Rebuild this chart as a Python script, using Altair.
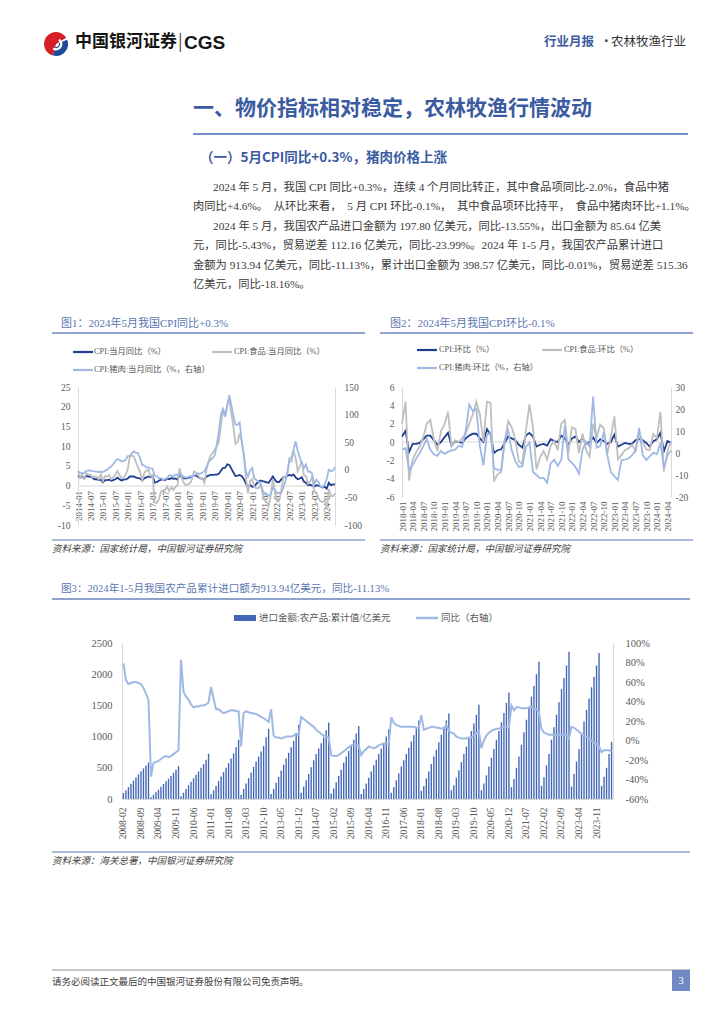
import altair as alt
import pandas as pd

# ---------------- categories ----------------
def month_range(y0, m0, y1, m1):
    out = []
    y, m = y0, m0
    while (y, m) <= (y1, m1):
        out.append("%d-%02d" % (y, m))
        m += 1
        if m == 13:
            y, m = y + 1, 1
    return out

cpi_months = month_range(2014, 1, 2024, 5)
mom_months = month_range(2018, 1, 2024, 5)
imp_months = month_range(2008, 2, 2024, 5)

# ---------------- chart 1 data (YoY, %) ----------------
cpi_yoy = [
    2.5, 2.0, 2.4, 1.8, 2.5, 2.3, 2.3, 2.0, 1.6, 1.6, 1.4, 1.5,
    0.8, 1.4, 1.4, 1.5, 1.2, 1.4, 1.6, 2.0, 1.6, 1.3, 1.5, 1.6,
    1.8, 2.3, 2.3, 2.3, 2.0, 1.9, 1.8, 1.3, 1.9, 2.1, 2.3, 2.1,
    2.5, 0.8, 0.9, 1.2, 1.5, 1.5, 1.4, 1.8, 1.6, 1.9, 1.7, 1.8,
    1.5, 2.9, 2.1, 1.8, 1.8, 1.9, 2.1, 2.3, 2.5, 2.5, 2.2, 1.9,
    1.7, 1.5, 2.3, 2.5, 2.7, 2.7, 2.8, 2.8, 3.0, 3.8, 4.5, 4.5,
    5.4, 5.2, 4.3, 3.3, 2.4, 2.5, 2.7, 2.4, 1.7, 0.5, -0.5, 0.2,
    -0.3, -0.2, 0.4, 0.9, 1.3, 1.1, 1.0, 0.8, 0.7, 1.5, 2.3, 1.5,
    0.9, 0.9, 1.5, 2.1, 2.1, 2.5, 2.7, 2.5, 2.8, 2.1, 1.6, 1.8,
    2.1, 1.0, 0.7, 0.1, 0.2, 0.0, -0.3, 0.1, 0.0, -0.2, -0.5, -0.3,
    -0.8, 0.7, 0.1, 0.3, 0.3]
food_yoy = [
    3.7, 2.0, 2.8, 1.8, 3.1, 2.8, 2.7, 2.1, 2.3, 2.2, 1.6, 2.9,
    1.1, 2.4, 2.3, 2.7, 1.6, 2.1, 2.7, 3.7, 2.7, 1.9, 2.0, 2.7,
    4.1, 7.3, 7.6, 7.4, 5.9, 4.6, 3.3, 1.3, 3.2, 3.8, 4.0, 2.4,
    2.7, -4.3, -4.4, -3.5, -1.6, -1.2, -1.1, -0.2, -1.4, -0.4, -1.1, -0.4,
    0.0, 4.4, 2.1, 0.7, 0.1, 0.3, 0.5, 1.7, 3.6, 3.3, 2.5, 1.9,
    1.9, 0.7, 4.1, 6.1, 7.7, 8.3, 9.1, 10.0, 11.2, 15.5, 19.1, 17.4,
    20.6, 21.9, 18.3, 14.8, 10.6, 11.1, 13.2, 11.2, 7.9, 2.2, -2.0, 1.2,
    1.6, -0.2, -0.7, -0.7, 0.3, -1.7, -3.7, -4.1, -5.2, -2.4, 1.6, -1.2,
    -3.8, -3.9, -1.5, 1.9, 2.3, 2.9, 6.3, 6.1, 8.8, 7.0, 3.7, 4.8,
    6.2, 2.6, 2.4, 0.4, 1.0, 2.3, -1.7, -1.7, -3.2, -4.0, -4.2, -3.7,
    -5.9, -0.9, -2.7, -2.7, -2.0]
pork_yoy = [
    -3.0, -5.0, -6.5, -5.5, -2.0, -1.0, -1.5, -2.5, -3.0, -3.5, -4.0, -3.5,
    -4.0, -2.0, 0.0, 3.0, 6.0, 10.0, 16.0, 19.6, 18.0, 15.0, 16.0, 18.0,
    25.0, 25.4, 30.2, 33.6, 30.7, 30.1, 20.4, 8.7, 7.8, 4.3, 4.3, 2.6,
    2.0, -10.2, -11.6, -15.0, -15.1, -18.2, -16.6, -15.1, -9.6, -10.1, -12.2, -8.8,
    -9.0, -8.0, -9.5, -13.0, -14.0, -13.5, -12.0, -11.5, -10.0, -8.0, -6.5, -7.0,
    -4.8, -3.3, 5.1, 14.4, 18.2, 21.1, 27.0, 46.7, 69.3, 101.3, 110.2, 97.0,
    116.0, 135.2, 116.4, 96.9, 81.7, 81.6, 85.7, 52.6, 25.5, -2.8, -12.5, -1.7,
    3.5, -14.9, -18.4, -21.4, -23.8, -36.5, -43.5, -44.9, -46.9, -44.0, -32.7, -36.7,
    -41.6, -42.5, -41.4, -33.3, -21.1, -6.0, 20.2, 22.4, 36.0, 51.8, 34.4, 22.2,
    11.8, 3.3, 9.6, -3.2, -3.2, -7.2, -26.0, -17.9, -22.0, -30.1, -31.8, -26.1,
    -17.3, 0.0, -2.4, -1.6, 4.6]

# ---------------- chart 2 data (MoM, %) ----------------
cpi_mom = [
    0.6, 1.2, -1.1, -0.2, -0.2, -0.1, 0.3, 0.7, 0.7, 0.2, -0.3, 0.0,
    0.5, 1.0, -0.4, 0.1, 0.0, -0.1, 0.4, 0.7, 0.9, 0.9, 0.4, 0.0,
    1.4, 0.8, -1.2, -0.9, -0.8, -0.1, 0.6, 0.4, 0.2, -0.3, -0.6, 0.7,
    1.0, 0.6, -0.5, -0.3, -0.2, -0.4, 0.3, 0.1, 0.0, 0.7, 0.4, -0.3,
    0.4, 0.6, 0.0, 0.4, -0.2, 0.0, 0.5, -0.1, 0.3, 0.1, -0.2, 0.0,
    0.8, -0.5, -0.3, -0.1, -0.2, -0.2, 0.2, 0.3, 0.2, -0.1, -0.5, 0.1,
    0.3, 1.0, -1.0, 0.1, -0.1]
food_mom = [
    2.0, 4.4, -4.2, -1.9, -1.1, -0.5, 0.5, 2.0, 2.4, 0.3, -1.0, 1.2,
    1.9, 3.3, -0.5, 0.2, 0.0, 0.4, 0.9, 2.0, 3.0, 4.4, 3.0, 0.0,
    4.4, 4.3, -4.3, -3.5, -3.3, 0.0, 2.3, 1.6, 0.3, -2.1, -2.4, 1.2,
    4.1, 1.6, -3.0, -1.7, -1.0, -1.9, -0.4, 0.1, -0.9, 2.0, 2.4, -1.2,
    1.6, 1.4, -1.2, 0.9, -0.9, -1.6, 2.0, 0.5, 1.9, 1.5, -1.3, 0.5,
    2.8, -1.9, -1.4, -0.9, -0.7, -0.3, -1.0, 1.1, 0.0, -0.8, -0.9, 0.9,
    0.4, 3.3, -3.2, -1.0, 0.0]
pork_mom = [
    1.4, 2.2, -7.7, -5.5, -2.5, 0.0, 3.0, 6.4, 1.5, -0.6, -1.3, 0.9,
    -0.4, 0.5, 1.2, 1.5, 3.2, 2.8, 10.1, 22.0, 19.0, 20.1, 3.1, -5.6,
    8.5, 9.2, -6.9, -7.6, -8.1, 6.0, 10.3, 1.2, -3.6, -6.4, -6.0, 2.8,
    4.7, -8.5, -10.0, -11.5, -11.2, -13.5, -4.7, -3.1, -5.9, -3.1, 12.5, -2.9,
    -4.5, -6.3, -9.4, 1.5, 5.2, 2.9, 25.6, 2.4, 3.1, 9.4, -0.9, -8.7,
    -10.5, -12.2, -3.2, -3.0, -2.5, -1.0, 1.2, 11.4, -0.9, -3.2, -1.5, 0.2,
    -0.6, 4.5, -6.6, -1.1, 1.1]

# ---------------- chart 3 data ----------------
imp_cum = [
    95, 140, 190, 245, 295, 345, 395, 445, 490, 535, 583,
    30, 70, 110, 150, 195, 240, 285, 325, 370, 420, 470, 527,
    45, 100, 160, 220, 275, 330, 390, 440, 500, 560, 630, 725,
    75, 140, 210, 285, 360, 430, 500, 575, 650, 730, 830, 948,
    70, 160, 250, 335, 425, 515, 600, 680, 760, 850, 990, 1124,
    80, 160, 260, 355, 455, 550, 650, 740, 830, 930, 1050, 1188,
    100, 200, 300, 400, 510, 620, 720, 810, 895, 985, 1100, 1225,
    90, 170, 270, 370, 470, 580, 680, 770, 860, 950, 1050, 1168,
    80, 160, 250, 340, 440, 540, 630, 720, 810, 900, 1000, 1116,
    100, 190, 300, 410, 520, 620, 720, 820, 920, 1020, 1130, 1258,
    130, 210, 330, 440, 560, 680, 790, 910, 1030, 1140, 1260, 1371,
    140, 220, 340, 460, 590, 720, 840, 970, 1090, 1210, 1350, 1509,
    140, 250, 380, 520, 660, 800, 950, 1090, 1230, 1380, 1540, 1708,
    190, 320, 500, 680, 870, 1070, 1270, 1460, 1640, 1810, 2000, 2198,
    210, 350, 540, 720, 950, 1150, 1350, 1550, 1760, 1940, 2140, 2361,
    200, 400, 600, 800, 1030, 1240, 1430, 1610, 1790, 1960, 2140, 2341,
    210, 355, 500, 720, 914]
imp_yoy = [
    79, 62, 58, 59, 60, 60, 59, 58, 54, 48, 42,
    -37, -23, -22, -21, -19, -17, -16, -17, -16, -14, -12, -10,
    83, 50, 45, 42, 37, 34, 35, 35, 36, 36, 37, 39,
    55, 43, 32, 32, 30, 28, 29, 30, 31, 31, 30, 30,
    -6, 28, 30, 29, 28, 28, 27, 26, 24, 23, 21, 19,
    32, 5, 3, 3, 2, 3, 4, 4, 4, 5, 7, 6,
    24, 22, 20, 18, 16, 14, 11, 9, 7, 5, 4, 3,
    -15, -16, -16, -15, -13, -11, -9, -7, -5, -4, -5, -5,
    -15, -11, -9, -6, -7, -8, -7, -5, -4, -3, -3, -4,
    24, 18, 16, 15, 14, 14, 14, 14, 14, 14, 13, 13,
    26, 11, 12, 13, 14, 14, 13, 13, 12, 13, 16, 10,
    8, 7, 4, 3, 2, 2, 2, 3, 3, 5, 7, 10,
    -8, 0, 5, 8, 10, 11, 12, 12, 13, 14, 14, 13,
    36, 31, 34, 34, 33, 33, 33, 34, 34, 33, 32, 29,
    12, 8, 7, 6, 6, 6, 6, 6, 6, 6, 5, 2,
    14, 13, 11, 9, 7, 5, 4, 2, 0, -2, -4, -6,
    -12, -10, -10, -10, -11.13]

# ---------------- tick labels ----------------
cpi_ticks = ["2014-01", "2014-07", "2015-01", "2015-07", "2016-01", "2016-07",
             "2017-01", "2017-07", "2018-01", "2018-07", "2019-01", "2019-07",
             "2020-01", "2020-07", "2021-01", "2021-07", "2022-01", "2022-07",
             "2023-01", "2023-07", "2024-01"]
mom_ticks = ["2018-01", "2018-04", "2018-07", "2018-10", "2019-01", "2019-04",
             "2019-07", "2019-10", "2020-01", "2020-04", "2020-07", "2020-10",
             "2021-01", "2021-04", "2021-07", "2021-10", "2022-01", "2022-04",
             "2022-07", "2022-10", "2023-01", "2023-04", "2023-07", "2023-10",
             "2024-01", "2024-04"]
imp_ticks = ["2008-02", "2008-09", "2009-04", "2009-11", "2010-06", "2011-01",
             "2011-08", "2012-03", "2012-10", "2013-05", "2013-12", "2014-07",
             "2015-02", "2015-09", "2016-04", "2016-11", "2017-06", "2018-01",
             "2018-08", "2019-03", "2019-10", "2020-05", "2020-12", "2021-07",
             "2022-02", "2022-09", "2023-04", "2023-11"]
c1_left_ticks = [-10, -5, 0, 5, 10, 15, 20, 25]
c1_right_ticks = [-100, -50, 0, 50, 100, 150]
c2_left_ticks = [-6, -4, -2, 0, 2, 4, 6]
c2_right_ticks = [-20, -10, 0, 10, 20, 30]
c3_left_ticks = [0, 500, 1000, 1500, 2000, 2500]
c3_right_ticks = [-60, -40, -20, 0, 20, 40, 60, 80, 100]

assert len(cpi_yoy) == len(food_yoy) == len(pork_yoy) == len(cpi_months)
assert len(cpi_mom) == len(food_mom) == len(pork_mom) == len(mom_months)
assert len(imp_cum) == len(imp_yoy) == len(imp_months)

df1 = pd.DataFrame({"month": cpi_months, "cpi": cpi_yoy, "food": food_yoy, "pork": pork_yoy})
df2 = pd.DataFrame({"month": mom_months, "cpi": cpi_mom, "food": food_mom, "pork": pork_mom})
df3 = pd.DataFrame({"month": imp_months, "imp": imp_cum, "yoy": imp_yoy})
ZERO = pd.DataFrame({"z": [0]})
ONE = pd.DataFrame({"k": [0]})

# ---------------- styles ----------------
CJK = "Noto Sans CJK SC"
SERIF = "Liberation Serif, Noto Sans CJK SC"
NUMF = "Liberation Serif"
NAVY = "#1f3d91"
GRAY = "#bfbfbf"
LBLUE = "#9fb8e4"
BAR = "#4166b5"
TBLUE = "#3b5ba1"
FIGT = "#5a76b1"
RULEC = "#8fa3cf"
AX_TXT = "#595959"
AX_LINE = "#d9d9d9"
BODY = "#3a3a3a"

W, H = 708, 1008
OX, OY = 8, 8


def px(x):
    return x - OX


def py(y):
    return y - OY


def text(t, x, y, size, color, font=CJK, weight="normal", align="left", style="normal"):
    return alt.Chart(ONE).mark_text(
        text=t, fontSize=size, color=color, font=font, fontWeight=weight,
        align=align, baseline="middle", fontStyle=style
    ).encode(x=alt.value(px(x)), y=alt.value(py(y)))


def hrule(x1, x2, y, color, w):
    return alt.Chart(ONE).mark_rule(color=color, strokeWidth=w).encode(
        x=alt.value(px(x1)), x2=alt.value(px(x2)), y=alt.value(py(y)))


def rect(x1, x2, y1, y2, color):
    return alt.Chart(ONE).mark_rect(color=color).encode(
        x=alt.value(px(x1)), x2=alt.value(px(x2)),
        y=alt.value(py(y1)), y2=alt.value(py(y2)))


def arc(cx, cy, t1, t2, r_out, r_in, color):
    return alt.Chart(ONE).mark_arc(
        theta=t1, theta2=t2, outerRadius=r_out, innerRadius=r_in, color=color
    ).encode(x=alt.value(px(cx)), y=alt.value(py(cy)))


def pscale(domain, x0, x1):
    return alt.Scale(type="point", domain=domain, range=[px(x0), px(x1)], padding=0)


def bscale(domain, x0, x1):
    return alt.Scale(type="band", domain=domain, range=[px(x0), px(x1)],
                     paddingInner=0.45, paddingOuter=0.3)


def qscale(domain, top, bottom):
    return alt.Scale(domain=domain, range=[py(bottom), py(top)], nice=False, zero=False)


def y_axis(values, orient, axis_x, pad, size, expr="'' + datum.value"):
    off = -px(axis_x) if orient == "left" else px(axis_x) - W
    return alt.Axis(orient=orient, offset=off, values=values, grid=False, ticks=False,
                    domainColor=AX_LINE, domainWidth=1, labelFont=NUMF,
                    labelFontSize=size, labelColor=AX_TXT, labelPadding=pad,
                    labelExpr=expr, title=None, labelOverlap=False)


def x_axis(values, axis_y, pad, size, show_domain=True):
    return alt.Axis(orient="bottom", offset=py(axis_y) - H, values=values, labelAngle=270,
                    grid=False, ticks=False, domain=show_domain, domainColor=AX_LINE,
                    domainWidth=1, labelFont=NUMF, labelFontSize=size, labelColor=AX_TXT,
                    labelPadding=pad, title=None, labelOverlap=False)


def line(df, field, xs, ys, color, xaxis=None, yaxis=None, w=1.8):
    return alt.Chart(df).mark_line(color=color, strokeWidth=w).encode(
        x=alt.X("month:O", scale=xs, axis=xaxis),
        y=alt.Y(field + ":Q", scale=ys, axis=yaxis))


layers = []

# ---------------- header ----------------
layers += [
    arc(56, 44, 3.4, 7.3, 12, 0, "#d71f2a"),
    arc(56, 44, 1.2, 3.4, 12, 3, "#1d4a9b"),
    arc(56, 44, 0.6, 3.7, 6.5, 4, "#ffffff"),
    text("中国银河证券", 75, 42, 17, "#151515", weight="bold"),
    text("|", 178, 42, 17, "#444444"),
    text("CGS", 184, 43, 19, "#151515", font="Liberation Sans", weight="bold"),
    text("行业月报", 544, 42, 12.5, TBLUE, weight="bold"),
    text("·", 600, 42, 12.5, "#444444"),
    text("农林牧渔行业", 611, 42, 12.5, "#333333"),
    text("一、物价指标相对稳定，农林牧渔行情波动", 193, 109, 21, TBLUE, weight="bold"),
    hrule(193, 688, 134, "#4a6cb3", 1.5),
    text("（一）5月CPI同比+0.3%，猪肉价格上涨", 200, 158, 13.5, TBLUE, weight="bold"),
]

SP = "\u2002"
body = [
    ("2024 年 5 月，我国 CPI 同比+0.3%，连续 4 个月同比转正，其中食品项同比-2.0%，食品中猪", 213, 188),
    ("肉同比+4.6%。" + SP + "从环比来看，" + SP + "5 月 CPI 环比-0.1%，" + SP
     + "其中食品项环比持平，" + SP + "食品中猪肉环比+1.1%。", 193, 207),
    ("2024 年 5 月，我国农产品进口金额为 197.80 亿美元，同比-13.55%，出口金额为 85.64 亿美", 213, 227),
    ("元，同比-5.43%，贸易逆差 112.16 亿美元，同比-23.99%。2024 年 1-5 月，我国农产品累计进口", 193, 246),
    ("金额为 913.94 亿美元，同比-11.13%，累计出口金额为 398.57 亿美元，同比-0.01%，贸易逆差 515.36", 193, 266),
    ("亿美元，同比-18.16%。", 193, 285),
]
for t, x, y in body:
    layers.append(text(t, x, y, 11.3, BODY, font=SERIF))

# ---------------- figure titles, legends, sources ----------------
layers += [
    text("图1：2024年5月我国CPI同比+0.3%", 61, 324, 11, FIGT, font=SERIF),
    hrule(52, 365, 333, RULEC, 2),
    text("图2：2024年5月我国CPI环比-0.1%", 390, 324, 11, FIGT, font=SERIF),
    hrule(380, 693, 333, RULEC, 2),
    hrule(73, 93, 352, NAVY, 2.2),
    text("CPI:当月同比（%）", 94, 352, 8.3, AX_TXT, font=SERIF),
    hrule(212, 232, 352, GRAY, 2.2),
    text("CPI:食品:当月同比（%）", 234, 352, 8.3, AX_TXT, font=SERIF),
    hrule(73, 93, 370, LBLUE, 2.2),
    text("CPI:猪肉:当月同比（%，右轴）", 94, 370, 8.3, AX_TXT, font=SERIF),
    hrule(417, 437, 350, NAVY, 2.2),
    text("CPI:环比（%）", 439, 350, 8.3, AX_TXT, font=SERIF),
    hrule(542, 562, 350, GRAY, 2.2),
    text("CPI:食品:环比（%）", 564, 350, 8.3, AX_TXT, font=SERIF),
    hrule(417, 437, 368, LBLUE, 2.2),
    text("CPI:猪肉:环比（%，右轴）", 439, 368, 8.3, AX_TXT, font=SERIF),
    hrule(52, 365, 540, RULEC, 1.5),
    text("资料来源：国家统计局，中国银河证券研究院", 52, 549, 9.5, "#404040", font=SERIF, style="italic"),
    hrule(380, 693, 540, RULEC, 1.5),
    text("资料来源：国家统计局，中国银河证券研究院", 380, 549, 9.5, "#404040", font=SERIF, style="italic"),
    text("图3：2024年1-5月我国农产品累计进口额为913.94亿美元，同比-11.13%", 61, 589, 10.6, FIGT, font=SERIF),
    hrule(52, 690, 599, RULEC, 2),
    rect(234, 256, 615, 621, BAR),
    text("进口金额:农产品:累计值/亿美元", 259, 618, 9.5, AX_TXT, font=SERIF),
    hrule(416, 438, 618, LBLUE, 2.5),
    text("同比（右轴）", 441, 618, 9.5, AX_TXT, font=SERIF),
    hrule(52, 690, 852, RULEC, 1.5),
    text("资料来源：海关总署，中国银河证券研究院", 52, 861, 9.5, "#404040", font=SERIF, style="italic"),
    hrule(52, 690, 970, "#8c8c8c", 1),
    text("请务必阅读正文最后的中国银河证券股份有限公司免责声明。", 52, 982, 9.5, "#404040"),
    rect(672, 690, 970, 991, "#7088c4"),
    text("3", 681, 981, 11, "#ffffff", font=NUMF, align="center"),
]

# ---------------- chart 1 ----------------
X1L, X1R, Y1T, Y1B = 78, 335, 387, 525
c1_zero_y = Y1T + (Y1B - Y1T) * 25 / 35
xs1 = pscale(cpi_months, X1L, X1R)
ysl1 = qscale([-10, 25], Y1T, Y1B)
ysr1 = qscale([-100, 150], Y1T, Y1B)
layers += [
    line(df1, "cpi", xs1, ysl1, NAVY, xaxis=x_axis(cpi_ticks, c1_zero_y, 5, 9),
         yaxis=y_axis(c1_left_ticks, "left", X1L, 8, 9.5)),
    line(df1, "food", xs1, ysl1, GRAY),
    line(df1, "pork", xs1, ysr1, LBLUE, yaxis=y_axis(c1_right_ticks, "right", X1R, 9, 9.5)),
]

# ---------------- chart 2 ----------------
X2L, X2R, Y2T, Y2B = 402, 671, 387, 497
xs2 = pscale(mom_months, X2L, X2R)
ysl2 = qscale([-6, 6], Y2T, Y2B)
ysr2 = qscale([-20, 30], Y2T, Y2B)
layers += [
    alt.Chart(ZERO).mark_rule(color=AX_LINE, strokeWidth=1).encode(
        y=alt.Y("z:Q", scale=ysl2, axis=None),
        x=alt.value(px(X2L)), x2=alt.value(px(X2R))),
    line(df2, "cpi", xs2, ysl2, NAVY, xaxis=x_axis(mom_ticks, Y2B, 4, 9, show_domain=False),
         yaxis=y_axis(c2_left_ticks, "left", X2L, 8, 9.5)),
    line(df2, "food", xs2, ysl2, GRAY),
    line(df2, "pork", xs2, ysr2, LBLUE, yaxis=y_axis(c2_right_ticks, "right", X2R, 4, 9.5)),
]

# ---------------- chart 3 ----------------
X3L, X3R, Y3T, Y3B = 122, 613, 643, 799
xs3 = bscale(imp_months, X3L, X3R)
ysl3 = qscale([0, 2500], Y3T, Y3B)
ysr3 = qscale([-60, 100], Y3T, Y3B)
layers += [
    alt.Chart(df3).mark_bar(color=BAR).encode(
        x=alt.X("month:O", scale=xs3, axis=x_axis(imp_ticks, Y3B, 8, 9.5)),
        y=alt.Y("imp:Q", scale=ysl3, axis=y_axis(c3_left_ticks, "left", X3L, 10, 10.5))),
    alt.Chart(df3).mark_line(color=LBLUE, strokeWidth=2).encode(
        x=alt.X("month:O", scale=xs3, axis=None),
        y=alt.Y("yoy:Q", scale=ysr3,
                axis=y_axis(c3_right_ticks, "right", X3R, 12, 10.5, expr="datum.value + '%'"))),
]

chart = alt.layer(*layers).resolve_scale(
    x="independent", y="independent"
).properties(
    width=W, height=H, padding=0, background="white",
    autosize=alt.AutoSizeParams(type="none"),
).configure_view(strokeWidth=0)

chart.save("out.html", embed_options={"renderer": "svg", "actions": False})
